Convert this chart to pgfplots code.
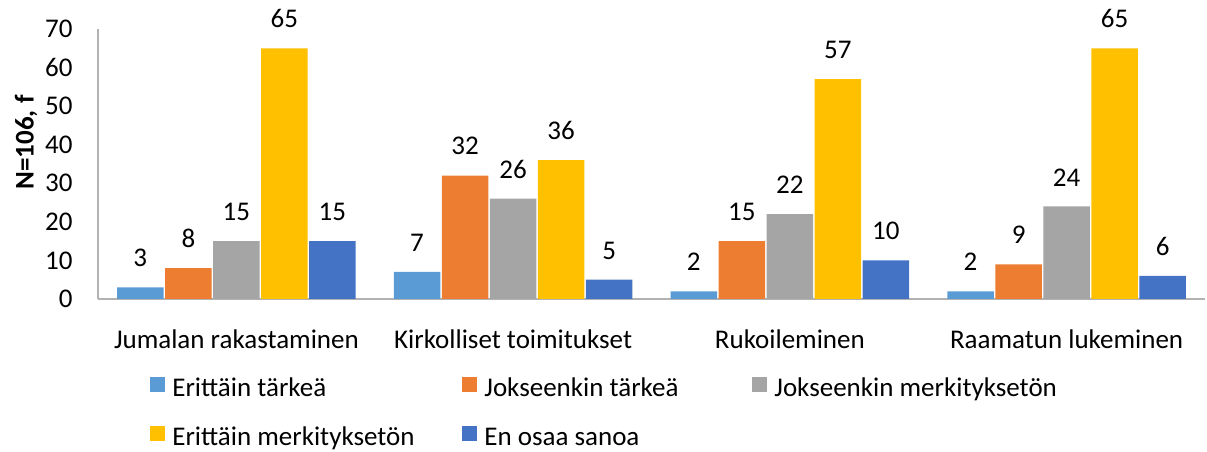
\documentclass[border=0pt]{standalone}
\usepackage{fontspec}
\setmainfont{Carlito}
\usepackage{pgfplots}
\pgfplotsset{compat=1.18}
\definecolor{c1}{HTML}{5B9BD5}
\definecolor{c2}{HTML}{ED7D31}
\definecolor{c3}{HTML}{A5A5A5}
\definecolor{c4}{HTML}{FFC000}
\definecolor{c5}{HTML}{4472C4}
\newcommand{\chartfont}{\fontsize{13.5}{15}\selectfont}
\begin{document}
\chartfont
\begin{tikzpicture}
\begin{axis}[
  name=ax,
  scale only axis, width=553.5pt, height=135pt,
  ymin=0, ymax=70, ytick={0,10,...,70},
  xmin=-0.5, xmax=3.5, xtick={0,1,2,3},
  xticklabels={Jumalan rakastaminen, Kirkolliset toimitukset, Rukoileminen, Raamatun lukeminen},
  axis x line*=bottom, axis y line*=left,
  axis line style={gray!60, line width=0.6pt, -},
  major tick length=0pt,
  /pgf/number format/assume math mode=true,
  tick label style={font=\chartfont},
  yticklabel style={xshift=-8pt},
  xticklabel style={yshift=-10.5pt},
  ylabel={\textbf{N=106, f}},
  ylabel style={at={([xshift=-36pt]axis description cs:0,0.58)}, anchor=center, font=\chartfont},
  clip=false,
  ybar=0pt, bar width=0.168,
  nodes near coords,
  every node near coord/.append style={font=\chartfont, black, yshift=5.5pt},
  legend columns=3,
  legend style={draw=none, inner sep=0pt, at={([xshift=26pt, yshift=-39pt]axis description cs:0,0)}, anchor=north west,
    /tikz/column sep=0pt, /tikz/row sep=12pt,
    nodes={inner xsep=3.5pt, inner ysep=0pt, text height=8pt, text depth=3pt, font=\chartfont}},
  legend cell align=left,
  legend image code/.code={\fill[#1] (0pt,-0.5pt) rectangle (7.5pt,7pt);},
]
\addplot[fill=c1, draw=none, bar shift=-0.347] coordinates {(0,3) (1,7) (2,2) (3,2)};
\addlegendentry{\makebox[141.5pt][l]{Erittäin tärkeä}}
\addplot[fill=c2, draw=none, bar shift=-0.1735] coordinates {(0,8) (1,32) (2,15) (3,9)};
\addlegendentry{\makebox[130.5pt][l]{Jokseenkin tärkeä}}
\addplot[fill=c3, draw=none, bar shift=0] coordinates {(0,15) (1,26) (2,22) (3,24)};
\addlegendentry{Jokseenkin merkityksetön}
\addplot[fill=c4, draw=none, bar shift=0.1735] coordinates {(0,65) (1,36) (2,57) (3,65)};
\addlegendentry{\makebox[141.5pt][l]{Erittäin merkityksetön}}
\addplot[fill=c5, draw=none, bar shift=0.347] coordinates {(0,15) (1,5) (2,10) (3,6)};
\addlegendentry{\makebox[130.5pt][l]{En osaa sanoa}}
\end{axis}
\pgfresetboundingbox
\path ([xshift=-49pt, yshift=-76.5pt]ax.south west) rectangle ([xshift=554.5pt, yshift=14.5pt]ax.north west);
\end{tikzpicture}
\end{document}
